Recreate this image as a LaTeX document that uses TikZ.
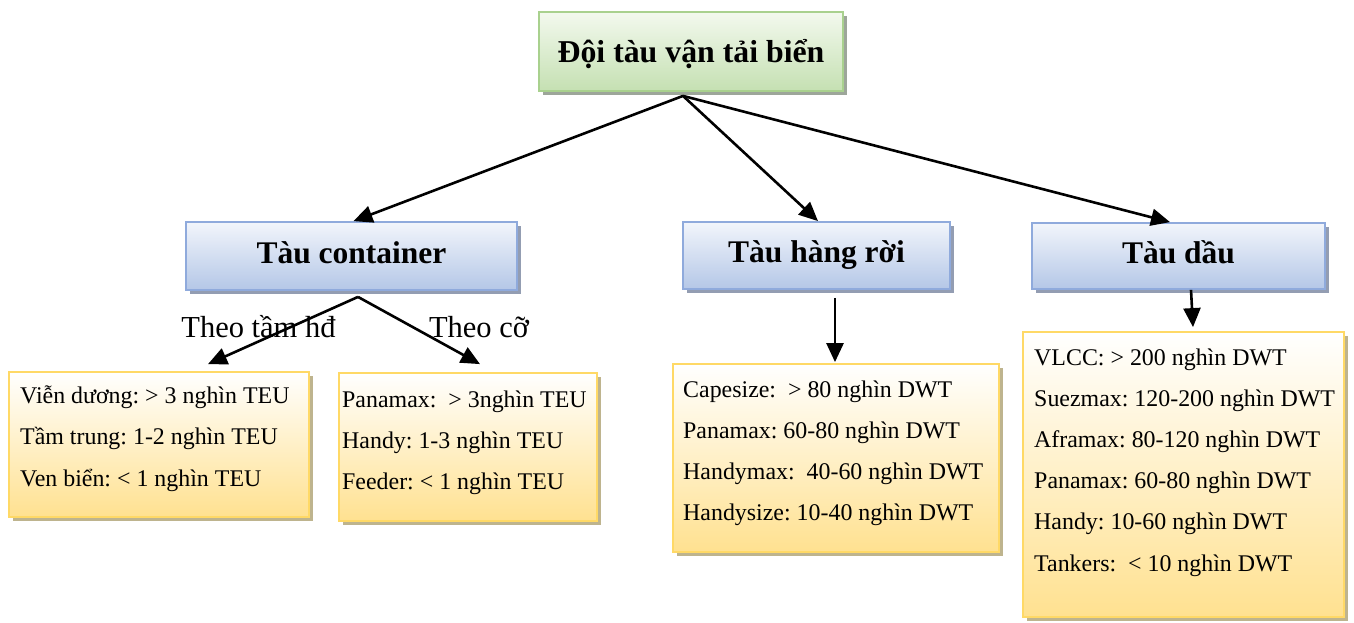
\documentclass[tikz,border=0pt]{standalone}
\usepackage{fontspec}
\setmainfont{Liberation Serif}
\usetikzlibrary{shadows,arrows.meta}
\frenchspacing

\definecolor{greenTop}{HTML}{F3F9EE}
\definecolor{greenBot}{HTML}{C5E0B2}
\definecolor{greenLine}{HTML}{A9D18E}
\definecolor{greenShadow}{HTML}{9DA69A}
\definecolor{blueTop}{HTML}{F2F5FB}
\definecolor{blueBot}{HTML}{B4C7E7}
\definecolor{blueLine}{HTML}{8FAADC}
\definecolor{blueShadow}{HTML}{939DB2}
\definecolor{yelTop}{HTML}{FFFFFF}
\definecolor{yelBot}{HTML}{FFE190}
\definecolor{yelLine}{HTML}{FFD966}
\definecolor{yelShadow}{HTML}{BEB48E}

\begin{document}
\begin{tikzpicture}[x=1pt,y=-1pt,
  box/.style={draw, line width=1.8pt, inner sep=0pt, text depth=0pt},
  rootbox/.style={box, draw=greenLine, top color=greenTop, bottom color=greenBot,
    drop shadow={shadow xshift=4pt, shadow yshift=-4pt, fill=greenShadow, opacity=1},
    font=\fontsize{31.8}{36}\selectfont\bfseries, text height=22pt},
  kindbox/.style={box, draw=blueLine, top color=blueTop, bottom color=blueBot,
    drop shadow={shadow xshift=4pt, shadow yshift=-4pt, fill=blueShadow, opacity=1},
    font=\fontsize{31.5}{36}\selectfont\bfseries, text height=14pt},
  listbox/.style={box, draw=yelLine, top color=yelTop, bottom color=yelBot,
    drop shadow={shadow xshift=4pt, shadow yshift=-4pt, fill=yelShadow, opacity=1}},
  entry/.style={anchor=base west, inner sep=0pt, font=\fontsize{23.9}{28}\selectfont},
  tag/.style={anchor=base, inner sep=0pt, font=\fontsize{30.5}{34}\selectfont},
  conn/.style={line width=2.6pt, -{Triangle[length=19pt,width=17pt]}}
]
\useasboundingbox (0,0) rectangle (1354,622);

% top level
\node[rootbox, minimum width=304pt, minimum height=79pt] (root) at (691,51.5) {Đội tàu vận tải biển};

% ship types
\node[kindbox, minimum width=331pt, minimum height=68pt] (cont) at (351.5,256) {Tàu container};
\node[kindbox, minimum width=267pt, minimum height=67pt] (bulk) at (816.5,255.5) {Tàu hàng rời};
\node[kindbox, minimum width=293pt, minimum height=66pt] (tank) at (1178.5,256) {Tàu dầu};

% size lists
\node[listbox, minimum width=300pt, minimum height=145pt] (b1) at (159,444.5) {};
\node[listbox, minimum width=258pt, minimum height=148pt] (b2) at (468,447) {};
\node[listbox, minimum width=326pt, minimum height=188pt] (b3) at (836,458) {};
\node[listbox, minimum width=321pt, minimum height=285pt] (b4) at (1183.5,474.5) {};

\foreach \t [count=\i] in {Viễn dương: > 3 nghìn TEU, Tầm trung: 1-2 nghìn TEU, Ven biển: < 1 nghìn TEU}
  \node[entry] (b1t\i) at (20,403+41.8*\i-41.8) {\t};
\foreach \t [count=\i] in {Panamax:~ > 3nghìn TEU, Handy: 1-3 nghìn TEU, Feeder: < 1 nghìn TEU}
  \node[entry] (b2t\i) at (342,407+41*\i-41) {\t};
\foreach \t [count=\i] in {Capesize:~ > 80 nghìn DWT, Panamax: 60-80 nghìn DWT, Handymax:~ 40-60 nghìn DWT, Handysize: 10-40 nghìn DWT}
  \node[entry] (b3t\i) at (683,397+41.3*\i-41.3) {\t};
\foreach \t [count=\i] in {VLCC: > 200 nghìn DWT, Suezmax: 120-200 nghìn DWT, Aframax: 80-120 nghìn DWT, Panamax: 60-80 nghìn DWT, Handy: 10-60 nghìn DWT, Tankers:~ < 10 nghìn DWT}
  \node[entry] (b4t\i) at (1034,365+41.2*\i-41.2) {\t};

% branch labels
\node[tag] (lblA) at (258.5,337) {Theo tầm hđ};
\node[tag] (lblB) at (479,337) {Theo cỡ};

% connectors
\draw[conn] ([xshift=-8pt,yshift=-4pt]root.south) -- ([xshift=2pt]cont.north);
\draw[conn] ([xshift=-8pt,yshift=-4pt]root.south) -- ([xshift=1.5pt]bulk.north);
\draw[conn] ([xshift=-8pt,yshift=-4pt]root.south) -- ([xshift=-8.5pt]tank.north);
\draw[conn] ([xshift=6.5pt,yshift=-6pt]cont.south) -- ([xshift=49pt,yshift=7pt]b1.north);
\draw[conn] ([xshift=6.5pt,yshift=-6pt]cont.south) -- ([xshift=12pt,yshift=8pt]b2.north);
\draw[conn] ([xshift=18.5pt,yshift=-8pt]bulk.south) -- ([xshift=-1pt,yshift=1pt]b3.north);
\draw[conn] ([xshift=12.5pt]tank.south) -- ([xshift=9.5pt,yshift=4pt]b4.north);
\end{tikzpicture}
\end{document}
